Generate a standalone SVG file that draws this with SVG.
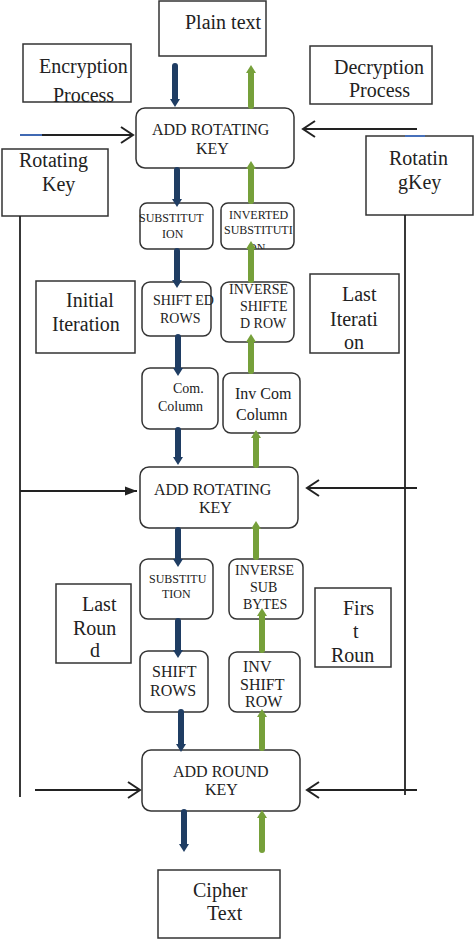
<svg xmlns="http://www.w3.org/2000/svg" width="474" height="939" viewBox="0 0 474 939" font-family="'Liberation Serif', 'DejaVu Serif', 'Times New Roman', serif">
<style>
.box{fill:#fff;stroke:#333;stroke-width:1.5}
.rb{fill:#fff;stroke:#333;stroke-width:1.5}
text{font-family:'Liberation Serif','DejaVu Serif','Times New Roman',serif;fill:#222}
.t20{font-size:20px}
.t16{font-size:16px}
.t14{font-size:14px}
.t12{font-size:12px}
.blue{stroke:#1f3d63;stroke-width:6;stroke-linecap:round;fill:none;marker-end:url(#hb)}
.green{stroke:#76a03a;stroke-width:6;stroke-linecap:round;fill:none;marker-end:url(#hg)}
.blk{stroke:#222;stroke-width:1.8;fill:none}
.open{marker-end:url(#ho)}
.fill{marker-end:url(#hf)}
</style>
<defs>
<marker id="hb" markerUnits="userSpaceOnUse" viewBox="0 0 8 10" refX="1" refY="5" markerWidth="8" markerHeight="10" orient="auto" overflow="visible"><path d="M0,0 L8,5 L0,10 z" fill="#1f3d63"/></marker>
<marker id="hg" markerUnits="userSpaceOnUse" viewBox="0 0 8 10" refX="1" refY="5" markerWidth="8" markerHeight="10" orient="auto" overflow="visible"><path d="M0,0 L8,5 L0,10 z" fill="#76a03a"/></marker>
<marker id="ho" markerUnits="userSpaceOnUse" viewBox="0 0 14 18" refX="13" refY="9" markerWidth="14" markerHeight="18" orient="auto" overflow="visible"><path d="M1,1 L13,9 L1,17" fill="none" stroke="#222" stroke-width="2"/></marker>
<marker id="hf" markerUnits="userSpaceOnUse" viewBox="0 0 12 9" refX="12" refY="4.5" markerWidth="12" markerHeight="9" orient="auto" overflow="visible"><path d="M0,0 L12,4.5 L0,9 z" fill="#222"/></marker>
<clipPath id="clipInv"><rect x="221" y="203" width="73" height="46"/></clipPath>
</defs>

<g id="plain-text">
<rect class="box" x="159" y="1" width="107" height="55"/>
<text class="t20" x="185" y="29">Plain text</text>
</g>

<g id="encryption-process">
<rect class="box" x="23" y="44" width="108" height="58"/>
<text class="t20" x="39" y="73">Encryption</text>
<text class="t20" x="53" y="102">Process</text>
</g>

<g id="decryption-process">
<rect class="box" x="310" y="46" width="122" height="58"/>
<text class="t20" x="334" y="74">Decryption</text>
<text class="t20" x="349" y="97">Process</text>
</g>

<g id="rotating-key-left">
<rect class="box" x="2" y="149" width="106" height="67"/>
<text class="t20" x="19" y="167">Rotating</text>
<text class="t20" x="42" y="191">Key</text>
</g>

<g id="rotating-key-right">
<rect class="box" x="366" y="136" width="107" height="79"/>
<text class="t20" x="389" y="165">Rotatin</text>
<text class="t20" x="398" y="189">gKey</text>
</g>

<g id="add-rotating-key-1">
<rect class="rb" x="136" y="108" width="158" height="60" rx="9"/>
<text class="t16" x="152" y="135">ADD ROTATING</text>
<text class="t16" x="196" y="154">KEY</text>
</g>

<g id="substitution-1">
<rect class="rb" x="140" y="203" width="73" height="46" rx="7"/>
<text class="t12" x="139" y="222">SUBSTITUT</text>
<text class="t12" x="162" y="238">ION</text>
</g>

<g id="inverted-substitution">
<rect class="rb" x="221" y="203" width="73" height="46" rx="7"/>
<text class="t12" x="229" y="219">INVERTED</text>
<text class="t12" x="224" y="234">SUBSTITUTI</text>
<text class="t12" x="248" y="252" clip-path="url(#clipInv)">ON</text>
</g>

<g id="initial-iteration">
<rect class="box" x="36" y="281" width="99" height="72"/>
<text class="t20" x="66" y="307">Initial</text>
<text class="t20" x="52" y="331">Iteration</text>
</g>

<g id="shifted-rows">
<rect class="rb" x="142" y="282" width="69" height="54" rx="8"/>
<text class="t14" x="153" y="305">SHIFT ED</text>
<text class="t14" x="160" y="323">ROWS</text>
</g>

<g id="inverse-shifted-row">
<rect class="rb" x="221" y="282" width="73" height="60" rx="8"/>
<text class="t14" x="229" y="294">INVERSE</text>
<text class="t14" x="240" y="311">SHIFTE</text>
<text class="t14" x="240" y="328">D ROW</text>
</g>

<g id="last-iteration">
<rect class="box" x="310" y="274" width="89" height="79"/>
<text class="t20" x="342" y="301">Last</text>
<text class="t20" x="330" y="326">Iterati</text>
<text class="t20" x="344" y="349">on</text>
</g>

<g id="com-column">
<rect class="rb" x="142" y="368" width="76" height="61" rx="8"/>
<text class="t14" x="173" y="393">Com.</text>
<text class="t14" x="158" y="411">Column</text>
</g>

<g id="inv-com-column">
<rect class="rb" x="223" y="373" width="77" height="60" rx="8"/>
<text class="t16" x="235" y="399">Inv Com</text>
<text class="t16" x="236" y="420">Column</text>
</g>

<g id="add-rotating-key-2">
<rect class="rb" x="140" y="467" width="158" height="61" rx="9"/>
<text class="t16" x="154" y="495">ADD ROTATING</text>
<text class="t16" x="199" y="513">KEY</text>
</g>

<g id="substitution-2">
<rect class="rb" x="140" y="559" width="73" height="60" rx="8"/>
<text class="t12" x="149" y="583">SUBSTITU</text>
<text class="t12" x="162" y="598">TION</text>
</g>

<g id="inverse-sub-bytes">
<rect class="rb" x="229" y="559" width="74" height="60" rx="8"/>
<text class="t14" x="235" y="575">INVERSE</text>
<text class="t14" x="250" y="592">SUB</text>
<text class="t14" x="243" y="609">BYTES</text>
</g>

<g id="last-round">
<rect class="box" x="56" y="584" width="75" height="79"/>
<text class="t20" x="82" y="611">Last</text>
<text class="t20" x="73" y="635">Roun</text>
<text class="t20" x="90" y="657">d</text>
</g>

<g id="first-round">
<rect class="box" x="315" y="588" width="76" height="79"/>
<text class="t20" x="343" y="615">Firs</text>
<text class="t20" x="353" y="638">t</text>
<text class="t20" x="331" y="662">Roun</text>
</g>

<g id="shift-rows">
<rect class="rb" x="140" y="651" width="68" height="61" rx="8"/>
<text class="t16" x="152" y="677">SHIFT</text>
<text class="t16" x="150" y="696">ROWS</text>
</g>

<g id="inv-shift-row">
<rect class="rb" x="229" y="652" width="71" height="60" rx="8"/>
<text class="t16" x="243" y="672">INV</text>
<text class="t16" x="240" y="690">SHIFT</text>
<text class="t16" x="245" y="707">ROW</text>
</g>

<g id="add-round-key">
<rect class="rb" x="142" y="750" width="158" height="61" rx="9"/>
<text class="t16" x="173" y="777">ADD ROUND</text>
<text class="t16" x="205" y="795">KEY</text>
</g>

<g id="cipher-text">
<rect class="box" x="158" y="870" width="122" height="68"/>
<text class="t20" x="193" y="897">Cipher</text>
<text class="t20" x="207" y="920">Text</text>
</g>

<g id="connectors">
<line class="blk" x1="20" y1="216" x2="20" y2="797"/>
<line class="blk" x1="405" y1="215" x2="405" y2="795"/>
<line class="blk open" x1="20" y1="135" x2="133" y2="135"/>
<line x1="20" y1="135" x2="42" y2="135" stroke="#4472c4" stroke-width="1.8"/>
<line x1="405" y1="136" x2="425" y2="136" stroke="#4472c4" stroke-width="1.8"/>
<line class="blk open" x1="417" y1="129" x2="303" y2="129"/>
<line class="blk fill" x1="20" y1="491" x2="137" y2="491"/>
<line class="blk open" x1="417" y1="488" x2="307" y2="488"/>
<line class="blk open" x1="35" y1="790" x2="140" y2="790"/>
<line class="blk open" x1="417" y1="790" x2="307" y2="790"/>

<line class="blue" x1="175" y1="66" x2="175" y2="100"/>
<line class="blue" x1="177" y1="170" x2="177" y2="200"/>
<line class="blue" x1="177" y1="251" x2="177" y2="281"/>
<line class="blue" x1="178" y1="337" x2="178" y2="369"/>
<line class="blue" x1="178" y1="430" x2="178" y2="458"/>
<line class="blue" x1="178" y1="530" x2="178" y2="560"/>
<line class="blue" x1="178" y1="621" x2="178" y2="651"/>
<line class="blue" x1="181" y1="712" x2="181" y2="745"/>
<line class="blue" x1="184" y1="812" x2="184" y2="845"/>

<line class="green" x1="251" y1="106" x2="251" y2="72"/>
<line class="green" x1="251" y1="201" x2="251" y2="168"/>
<line class="green" x1="251" y1="280" x2="251" y2="248"/>
<line class="green" x1="251" y1="371" x2="251" y2="341"/>
<line class="green" x1="256" y1="465" x2="256" y2="437"/>
<line class="green" x1="256" y1="557" x2="256" y2="528"/>
<line class="green" x1="262" y1="650" x2="262" y2="615"/>
<line class="green" x1="262" y1="748" x2="262" y2="716"/>
<line class="green" x1="262" y1="850" x2="262" y2="817"/>
</g>
</svg>
